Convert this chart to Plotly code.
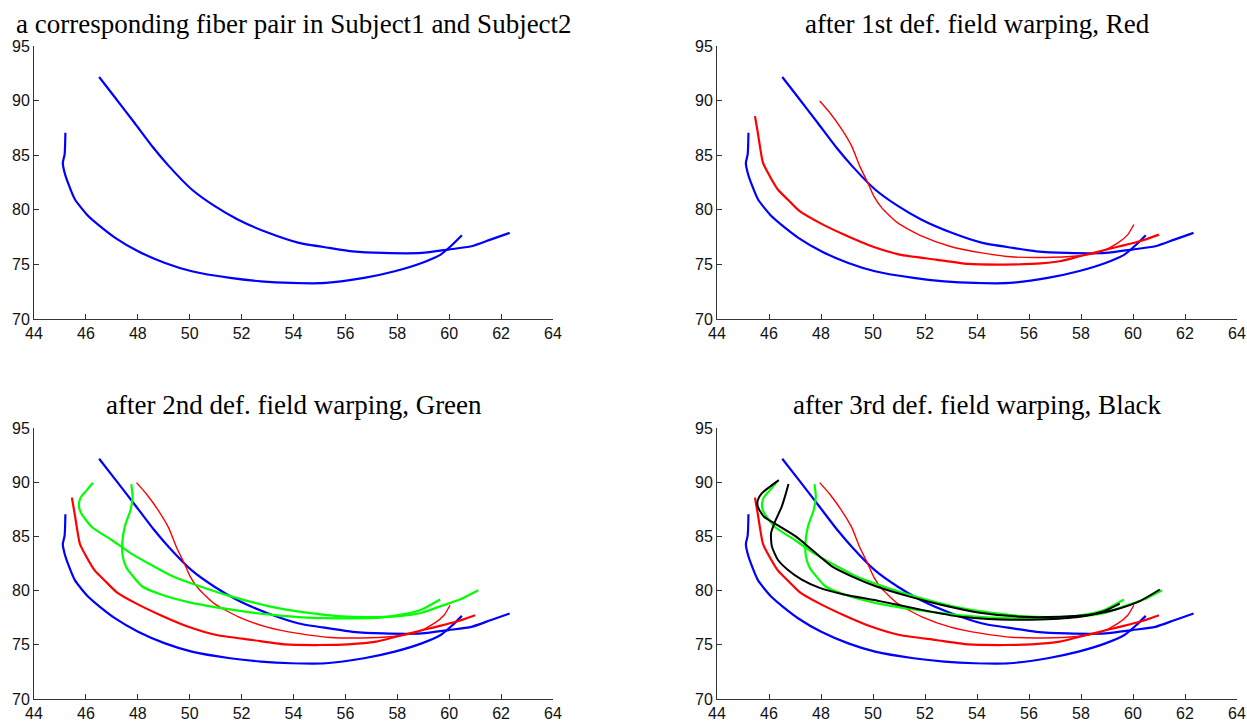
import plotly.graph_objects as go

# Fiber tract coordinates (x, y) for each curve
blue_a_x = [45.21, 45.18, 45.11, 45.18, 45.36, 45.58, 46.10, 46.54, 47.13, 48.01, 49.05, 50.08, 51.56, 52.74, 53.92, 55.25, 56.72, 57.90, 58.94, 59.67, 60.12, 60.49]
blue_a_y = [87.05, 85.07, 84.30, 83.40, 82.16, 80.94, 79.40, 78.50, 77.43, 76.20, 75.13, 74.37, 73.76, 73.45, 73.30, 73.30, 73.76, 74.37, 75.13, 75.90, 76.80, 77.67]

blue_b_x = [46.51, 47.13, 47.87, 48.60, 49.20, 50.08, 50.97, 51.85, 53.03, 54.21, 55.39, 56.28, 57.46, 58.94, 59.97, 60.86, 61.59, 62.33]
blue_b_y = [92.16, 90.26, 87.97, 85.68, 84.00, 81.86, 80.33, 79.11, 77.89, 76.97, 76.51, 76.20, 76.05, 76.05, 76.36, 76.66, 77.27, 77.89]

red_a_x = [45.46, 45.57, 45.65, 45.77, 46.03, 46.34, 46.72, 47.18, 47.95, 48.88, 49.95, 51.03, 52.42, 53.65, 55.03, 56.11, 57.18, 57.95, 58.72, 59.49, 60.26, 61.00]
red_a_y = [88.58, 87.05, 85.83, 84.30, 83.08, 81.86, 80.94, 79.87, 78.80, 77.73, 76.66, 75.90, 75.44, 75.04, 74.98, 75.04, 75.29, 75.75, 76.20, 76.66, 77.12, 77.73]

red_b_x = [47.95, 48.34, 48.80, 49.18, 49.49, 49.80, 50.03, 50.34, 50.95, 51.88, 52.95, 54.18, 55.42, 56.95, 58.03, 58.80, 59.42, 59.80, 60.03]
red_b_y = [89.96, 88.89, 87.36, 85.83, 84.00, 82.47, 81.25, 80.18, 78.80, 77.58, 76.66, 76.05, 75.68, 75.65, 75.81, 76.20, 76.97, 77.73, 78.65]

green_a_x = [46.27, 46.02, 45.80, 45.73, 45.83, 46.24, 46.98, 47.72, 48.61, 49.34, 50.38, 51.56, 53.03, 54.51, 55.69, 56.87, 58.05, 58.94, 59.68, 60.41, 61.12]
green_a_y = [89.95, 89.22, 88.60, 87.84, 87.08, 85.85, 84.69, 83.46, 82.24, 81.32, 80.40, 79.49, 78.57, 77.96, 77.65, 77.56, 77.65, 77.96, 78.57, 79.18, 80.04]

green_b_x = [47.75, 47.80, 47.72, 47.50, 47.40, 47.42, 47.57, 47.87, 48.16, 48.90, 50.08, 51.56, 53.03, 54.51, 55.99, 57.31, 58.20, 58.94, 59.65]
green_b_y = [89.83, 88.66, 87.44, 85.91, 84.38, 83.16, 82.09, 81.17, 80.40, 79.64, 78.87, 78.26, 77.80, 77.50, 77.44, 77.50, 77.80, 78.26, 79.18]

black_a_x = [46.38, 46.03, 45.72, 45.57, 45.57, 45.80, 46.42, 47.03, 47.65, 48.42, 49.18, 50.11, 51.34, 52.57, 54.11, 55.65, 57.18, 58.42, 59.34, 60.26, 61.03]
black_a_y = [90.19, 89.58, 88.97, 88.36, 87.75, 86.83, 85.91, 85.00, 83.77, 82.24, 81.32, 80.40, 79.49, 78.72, 77.96, 77.59, 77.59, 77.80, 78.26, 79.03, 80.10]

black_b_x = [46.75, 46.65, 46.49, 46.26, 46.08, 46.11, 46.34, 46.72, 47.26, 47.95, 48.88, 50.26, 51.80, 53.34, 54.88, 56.42, 57.95, 58.88, 59.49]
black_b_y = [89.83, 88.97, 87.75, 86.52, 85.30, 84.08, 82.85, 81.93, 81.02, 80.25, 79.64, 79.03, 78.26, 77.59, 77.34, 77.34, 77.59, 78.10, 78.80]

titles = [
    "a corresponding fiber pair in Subject1 and Subject2",
    "after 1st def. field warping, Red",
    "after 2nd def. field warping, Green",
    "after 3rd def. field warping, Black",
]
x_ticks = [44, 46, 48, 50, 52, 54, 56, 58, 60, 62, 64]
y_ticks = [70, 75, 80, 85, 90, 95]

W, H = 1247, 721

curves = {
    "blue_a": (blue_a_x, blue_a_y, "#0000FF", 2.2),
    "blue_b": (blue_b_x, blue_b_y, "#0000FF", 2.2),
    "red_a": (red_a_x, red_a_y, "#FF0000", 2.2),
    "red_b": (red_b_x, red_b_y, "#FF0000", 1.4),
    "green_a": (green_a_x, green_a_y, "#00FF00", 2.2),
    "green_b": (green_b_x, green_b_y, "#00FF00", 2.2),
    "black_a": (black_a_x, black_a_y, "#000000", 2.0),
    "black_b": (black_b_x, black_b_y, "#000000", 2.0),
}

panels = [
    ["blue_a", "blue_b"],
    ["blue_a", "blue_b", "red_a", "red_b"],
    ["blue_a", "blue_b", "red_a", "red_b", "green_a", "green_b"],
    ["blue_a", "blue_b", "red_a", "red_b", "green_a", "green_b", "black_a", "black_b"],
]

# Pixel boxes of each axes: (left, right, top, bottom)
boxes = [
    (34, 553, 46, 319),
    (717, 1237, 46, 319),
    (34, 553, 428, 699),
    (717, 1237, 428, 699),
]

fig = go.Figure()
layout = {}
tick_font = dict(family="Liberation Sans Narrow, Arial Narrow, Liberation Sans, Arial", size=16, color="#111111")

for i, (names, box) in enumerate(zip(panels, boxes)):
    n = i + 1
    xa = "x" if n == 1 else f"x{n}"
    ya = "y" if n == 1 else f"y{n}"
    for name in names:
        cx, cy, col, w = curves[name]
        fig.add_trace(go.Scatter(x=cx, y=cy, mode="lines", xaxis=xa, yaxis=ya,
                                 line=dict(color=col, width=w, shape="spline", smoothing=0.6),
                                 showlegend=False, hoverinfo="skip"))
    l, r, t, b = box
    axis_common = dict(showline=True, linecolor="#333333", linewidth=1, ticks="inside",
                       ticklen=5, tickcolor="#333333", showgrid=False, zeroline=False,
                       tickfont=tick_font, mirror=False, automargin=False)
    layout["xaxis" if n == 1 else f"xaxis{n}"] = dict(
        domain=[l / W, r / W], range=[44, 64], tickvals=x_ticks,
        anchor=ya, **axis_common)
    layout["yaxis" if n == 1 else f"yaxis{n}"] = dict(
        domain=[1 - b / H, 1 - t / H], range=[70, 95], tickvals=y_ticks,
        anchor=xa, **axis_common)

annotations = []
title_y = [24, 24, 405, 405]
for i, (txt, box) in enumerate(zip(titles, boxes)):
    l, r, t, b = box
    annotations.append(dict(text=txt, xref="paper", yref="paper",
                            x=(l + r) / 2 / W, y=1 - title_y[i] / H,
                            xanchor="center", yanchor="middle", showarrow=False,
                            font=dict(family="Liberation Serif, Times New Roman, serif",
                                      size=27, color="#000000")))

fig.update_layout(**layout)
fig.update_layout(template="none", width=W, height=H, margin=dict(l=0, r=0, t=0, b=0, pad=0),
                  plot_bgcolor="white", paper_bgcolor="white",
                  annotations=annotations)

# Remove the default page margin so the figure fills the window exactly
fig.write_html("out.html",
               post_script="document.body.style.margin='0';document.body.style.overflow='hidden';")
